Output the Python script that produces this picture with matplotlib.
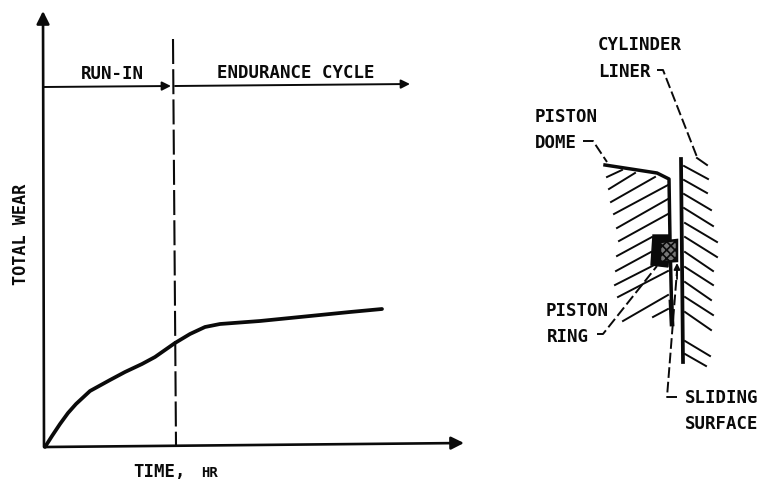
import matplotlib

matplotlib.use("Agg")
import matplotlib.pyplot as plt
from matplotlib.patches import Polygon

# wear curve (pixel positions of the scan)
curve_x = [45, 52, 60, 68, 76, 90, 110, 125, 142, 155, 165, 175, 190, 205, 220, 260, 310, 350, 382]
curve_y = [448, 437, 425, 414, 405, 392, 381, 373, 365, 358, 351, 344, 335, 328, 325, 322, 317, 313, 310]

# axes of the chart
y_axis_x = [44, 46]
y_axis_y = [448, 12]
x_axis_x = [46, 464]
x_axis_y = [448, 444]

# vertical divider and phase arrows
divider_x = [173, 176]
divider_y = [40, 446]
run_in_x = [44, 171]
run_in_y = [88, 87]
endurance_x = [175, 410]
endurance_y = [87, 85]

# schematic outlines
liner_x = [681, 683]
liner_y = [160, 363]
dome_x = [605, 657, 669, 670, 672]
dome_y = [166, 174, 180, 240, 325]
groove_x = [670, 653, 651, 668]
groove_y = [236, 236, 266, 268]
ring_x = [660, 677, 677, 660]
ring_y = [243, 241, 262, 263]

# hatch lines (x0, x1, y0, y1)
liner_hatch_x0 = [697, 684, 684, 684, 684, 685, 685, 685, 685, 685, 685, 685, 685, 685]
liner_hatch_x1 = [707, 708, 707, 711, 713, 717, 717, 713, 713, 711, 713, 711, 710, 706]
liner_hatch_y0 = [159, 167, 181, 195, 209, 224, 238, 253, 268, 283, 298, 313, 342, 355]
liner_hatch_y1 = [166, 180, 194, 211, 227, 243, 258, 272, 286, 301, 316, 331, 357, 367]
dome_hatch_x0 = [607, 609, 611, 614, 617, 619, 617, 616, 615, 618, 623, 653]
dome_hatch_x1 = [622, 635, 655, 668, 668, 668, 652, 651, 668, 668, 668, 668]
dome_hatch_y0 = [178, 190, 203, 215, 229, 242, 257, 272, 286, 298, 322, 318]
dome_hatch_y1 = [171, 174, 178, 186, 200, 215, 238, 253, 259, 272, 296, 310]

# dashed leaders
cyl_leader_x = [657, 663, 697]
cyl_leader_y = [71, 71, 158]
dome_leader_x = [583, 593, 607]
dome_leader_y = [142, 142, 163]
ring_leader_x = [597, 603, 657]
ring_leader_y = [335, 335, 267]
slide_leader_x = [677, 667, 677]
slide_leader_y = [398, 398, 272]

labels = ["RUN-IN", "ENDURANCE CYCLE", "TIME,", "CYLINDER", "LINER", "PISTON", "DOME", "PISTON", "RING", "SLIDING", "SURFACE"]
label_x = [112, 296, 160, 598, 598, 535, 535, 546, 547, 685, 685]
label_y = [74, 73, 472, 45, 72, 117, 143, 311, 337, 398, 424]
label_ha = ["center", "center", "center", "left", "left", "left", "left", "left", "left", "left", "left"]

INK = "#0a0a0a"

plt.rcParams["font.family"] = ["DejaVu Sans Mono"]
plt.rcParams["hatch.linewidth"] = 1.2

fig = plt.figure(figsize=(7.62, 4.85), dpi=100)
ax = fig.add_axes([0, 0, 1, 1])
ax.set_xlim(0, 762)
ax.set_ylim(485, 0)
ax.axis("off")


def arrow(x0, y0, x1, y1, lw=1.4, scale=14):
    ax.annotate(
        "",
        xy=(x1, y1),
        xytext=(x0, y0),
        arrowprops=dict(arrowstyle="-|>", color=INK, lw=lw, mutation_scale=scale, shrinkA=0, shrinkB=0),
    )


# chart
arrow(y_axis_x[0], y_axis_y[0], y_axis_x[1] - 3, y_axis_y[1], lw=1.9, scale=19)
arrow(x_axis_x[0], x_axis_y[0], x_axis_x[1], x_axis_y[1], lw=1.9, scale=19)
arrow(run_in_x[0], run_in_y[0], run_in_x[1], run_in_y[1], scale=13)
arrow(endurance_x[0], endurance_y[0], endurance_x[1], endurance_y[1], scale=13)
ax.plot(divider_x, divider_y, color=INK, lw=1.5, dashes=(12, 2.5))
ax.plot(curve_x, curve_y, color=INK, lw=2.7, solid_capstyle="round", solid_joinstyle="round")

# schematic
ax.plot(liner_x, liner_y, color=INK, lw=2.7)
ax.plot(dome_x, dome_y, color=INK, lw=2.5, solid_joinstyle="round")
ax.plot([671, 672], [303, 325], color=INK, lw=3.4)
for x0, x1, y0, y1 in zip(liner_hatch_x0, liner_hatch_x1, liner_hatch_y0, liner_hatch_y1):
    ax.plot([x0, x1], [y0, y1], color=INK, lw=1.4)
for x0, x1, y0, y1 in zip(dome_hatch_x0, dome_hatch_x1, dome_hatch_y0, dome_hatch_y1):
    ax.plot([x0, x1], [y0, y1], color=INK, lw=1.4)

ax.fill(groove_x, groove_y, color=INK, zorder=3)
ax.add_patch(Polygon(list(zip(ring_x, ring_y)), closed=True, facecolor="#777777", edgecolor=INK, lw=1.8, hatch="xxxx", zorder=4))

# leaders
for xs, ys in [(cyl_leader_x, cyl_leader_y), (dome_leader_x, dome_leader_y), (ring_leader_x, ring_leader_y), (slide_leader_x, slide_leader_y)]:
    ax.plot(xs, ys, color=INK, lw=1.4, dashes=(5.5, 2))
arrow(677, 280, 677, 264, lw=1.3, scale=9)

# text
for text, x, y, ha in zip(labels, label_x, label_y, label_ha):
    ax.text(x, y, text, ha=ha, va="center", fontsize=12.5, fontweight="bold", color=INK)
ax.text(209, 473, "HR", ha="center", va="center", fontsize=10, fontweight="bold", color=INK)
ax.text(21, 234, "TOTAL WEAR", rotation=90, ha="center", va="center", fontsize=12.2, fontweight="bold", color=INK)

fig.savefig("out.png", dpi=100)
